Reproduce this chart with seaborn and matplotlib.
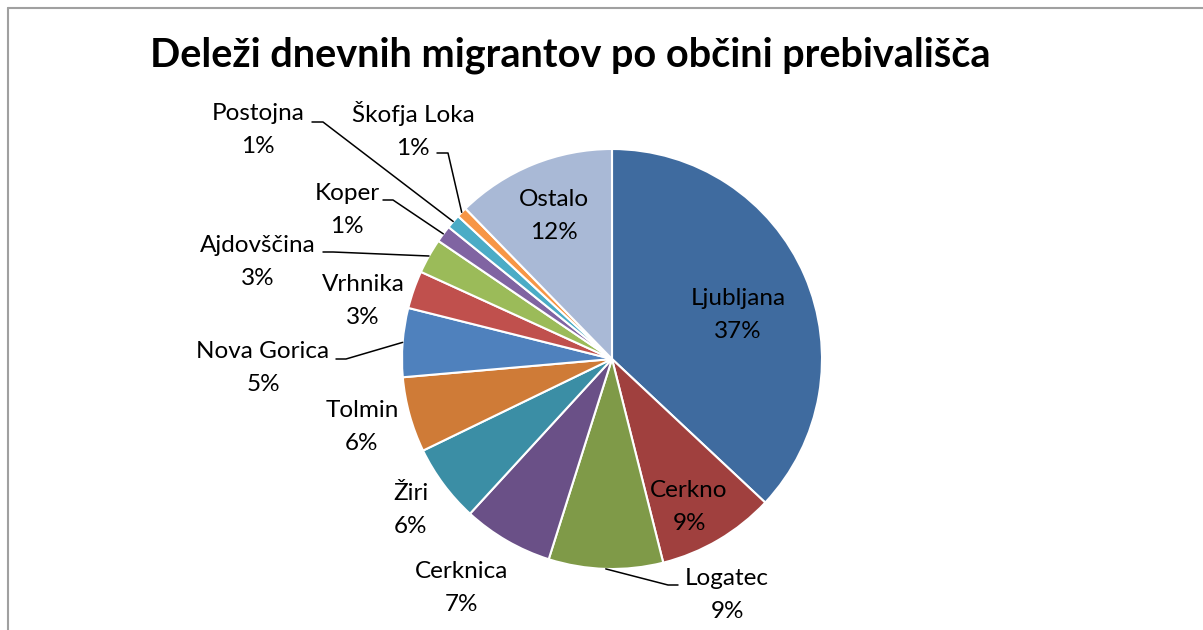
import numpy as np
import matplotlib
matplotlib.use("Agg")
import matplotlib.pyplot as plt
import seaborn as sns

sns.set_theme(style="white")
plt.rcParams["font.family"] = ["Lato", "DejaVu Sans"]

# podatki (odčitano s slike)
obcine = ["Ljubljana", "Cerkno", "Logatec", "Cerknica", "Žiri", "Tolmin",
          "Nova Gorica", "Vrhnika", "Ajdovščina", "Koper", "Postojna",
          "Škofja Loka", "Ostalo"]
delezi = [37.0, 9.1, 8.8, 6.95, 6.0, 5.8, 5.3, 2.9, 2.7, 1.3, 1.1, 0.8, 12.3]
barve = ["#3F6B9F", "#A0403E", "#7F9A48", "#6A5087", "#3B8EA5", "#CF7B37",
         "#4F81BD", "#C0504D", "#9BBB59", "#8064A2", "#4BACC6", "#F79646",
         "#A9B9D6"]

W, H = 1203, 630
CX, CY, R = 612, 359, 210

fig = plt.figure(figsize=(W / 100, H / 100), dpi=100)
ax = fig.add_axes([(CX - R) / W, (H - CY - R) / H, 2 * R / W, 2 * R / H])
wedges, _ = ax.pie(delezi, colors=barve, startangle=90, counterclock=False,
                   wedgeprops=dict(edgecolor="white", linewidth=1.5))
ax.set_aspect("equal")
ax.set_xlim(-1, 1)
ax.set_ylim(-1, 1)
ax.axis("off")


def px(x, y):
    return (x - CX) / R, (CY - y) / R


# položaji oznak v pikslih (središče besedila), za oznake s črto še začetek črte
oznake = {
    "Ljubljana": (738, 315, None),
    "Cerkno": (689, 507, None),
    "Logatec": (727, 595, ((678, 585), (668, 585))),
    "Cerknica": (462, 588, None),
    "Žiri": (411, 510, None),
    "Tolmin": (362, 427, None),
    "Nova Gorica": (263, 368, ((336, 359), (346, 359))),
    "Vrhnika": (363, 301, None),
    "Ajdovščina": (258, 262, ((323, 252), (333, 252))),
    "Koper": (347, 210, ((383, 200), (393, 200))),
    "Postojna": (258, 130, ((312, 122), (323, 122))),
    "Škofja Loka": (413, 130, ((437, 153), (448, 153))),
    "Ostalo": (554, 216, None),
}

for w, ime, d in zip(wedges, obcine, delezi):
    tx, ty, crta = oznake[ime]
    ax.text(*px(tx, ty), f"{ime}\n{d:.0f}%", ha="center", va="center",
            fontsize=17.5, color="black", linespacing=1.65)
    if crta is not None:
        kot = np.deg2rad((w.theta1 + w.theta2) / 2)
        rob = (np.cos(kot), np.sin(kot))
        start = px(*crta[0])
        lom = px(*crta[1])
        kot_b = np.degrees(np.arctan2(rob[1] - lom[1], rob[0] - lom[0]))
        ax.annotate("", xy=rob, xytext=start,
                    arrowprops=dict(arrowstyle="-", color="black", lw=1.1,
                                    shrinkA=0, shrinkB=0,
                                    connectionstyle=f"angle,angleA=0,angleB={kot_b},rad=0"))

fig.text(570 / W, 1 - 55 / H, "Deleži dnevnih migrantov po občini prebivališča",
         ha="center", va="center", fontsize=28.5, fontweight="bold", color="black")

# okvir grafikona (levo in zgoraj)
fig.add_artist(plt.Line2D([7.5 / W, 7.5 / W], [0, 1 - 8 / H], color="#A0A0A0", lw=1.5))
fig.add_artist(plt.Line2D([7.5 / W, 1], [1 - 8 / H, 1 - 8 / H], color="#A0A0A0", lw=1.5))

fig.savefig("out.png", dpi=100, facecolor="white")
plt.close(fig)
